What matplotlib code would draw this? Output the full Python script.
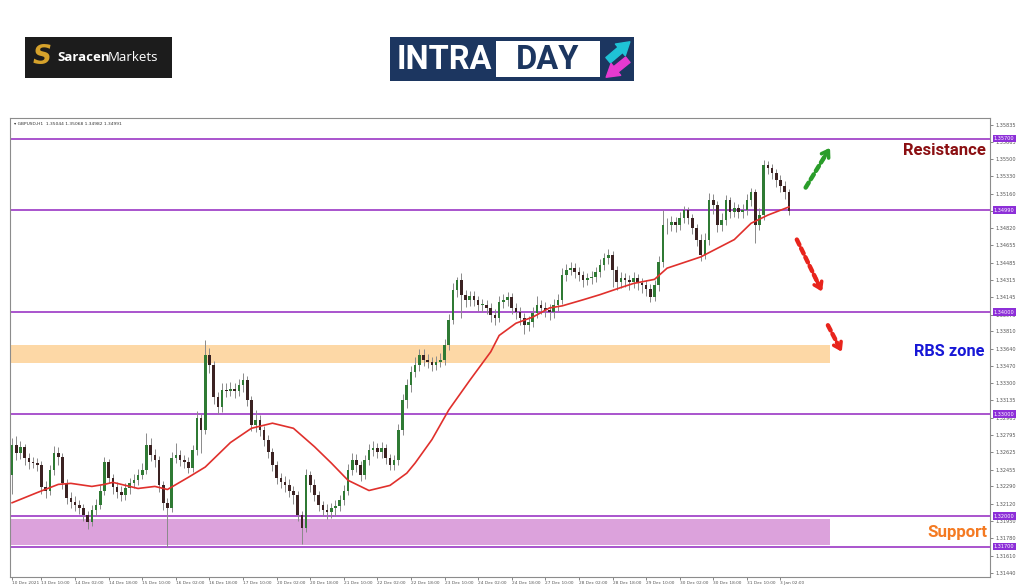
import matplotlib
matplotlib.use("Agg")
import matplotlib.pyplot as plt
from matplotlib.patches import Rectangle, FancyArrowPatch

# ---------------- data (2-hour bars) ----------------
first_open = 1.3240
closes = [
    1.3270, 1.3262, 1.3268, 1.3257, 1.3253, 1.3252, 1.3250, 1.3228, 1.3225, 1.3245,
    1.3262, 1.3258, 1.3232, 1.3218, 1.3214, 1.3211, 1.3208, 1.3201, 1.3194, 1.3206,
    1.3211, 1.3225, 1.3253, 1.3237, 1.3228, 1.3224, 1.3221, 1.3227, 1.3232, 1.3235,
    1.3240, 1.3245, 1.3270, 1.3260, 1.3255, 1.3230, 1.3213, 1.3208, 1.3257, 1.3260,
    1.3255, 1.3253, 1.3247, 1.3265, 1.3296, 1.3284, 1.3358, 1.3348, 1.3317, 1.3307,
    1.3324, 1.3323, 1.3325, 1.3323, 1.3328, 1.3333, 1.3314, 1.3289, 1.3294, 1.3284,
    1.3275, 1.3263, 1.3250, 1.3237, 1.3233, 1.3230, 1.3225, 1.3221, 1.3201, 1.3188,
    1.3240, 1.3230, 1.3221, 1.3211, 1.3206, 1.3204, 1.3208, 1.3210, 1.3216, 1.3225,
    1.3245, 1.3255, 1.3250, 1.3240, 1.3255, 1.3265, 1.3267, 1.3263, 1.3267, 1.3257,
    1.3250, 1.3255, 1.3284, 1.3314, 1.3328, 1.3341, 1.3348, 1.3358, 1.3353, 1.3351,
    1.3348, 1.3351, 1.3353, 1.3368, 1.3392, 1.3422, 1.3431, 1.3417, 1.3412, 1.3416,
    1.3412, 1.3407, 1.3407, 1.3404, 1.3397, 1.3394, 1.3410, 1.3412, 1.3415, 1.3404,
    1.3400, 1.3394, 1.3387, 1.3390, 1.3399, 1.3407, 1.3404, 1.3402, 1.3400, 1.3407,
    1.3412, 1.3436, 1.3441, 1.3443, 1.3439, 1.3436, 1.3431, 1.3433, 1.3434, 1.3439,
    1.3446, 1.3453, 1.3456, 1.3441, 1.3429, 1.3433, 1.3431, 1.3429, 1.3433, 1.3428,
    1.3426, 1.3423, 1.3415, 1.3426, 1.3449, 1.3485, 1.3485, 1.3488, 1.3485, 1.3492,
    1.3500, 1.3492, 1.3482, 1.3471, 1.3456, 1.3471, 1.3510, 1.3505, 1.3485, 1.3490,
    1.3510, 1.3498, 1.3502, 1.3498, 1.3500, 1.3510, 1.3518, 1.3485, 1.3495, 1.3544,
    1.3541, 1.3536, 1.3529, 1.3524, 1.3518, 1.3499,
]
highs = [
    1.3276, 1.3278, 1.3274, 1.3271, 1.3262, 1.3258, 1.3257, 1.3254, 1.3234, 1.3250,
    1.3269, 1.3268, 1.3262, 1.3236, 1.3224, 1.3220, 1.3216, 1.3212, 1.3205, 1.3211,
    1.3217, 1.3230, 1.3258, 1.3256, 1.3241, 1.3233, 1.3229, 1.3232, 1.3237, 1.3241,
    1.3246, 1.3252, 1.3281, 1.3276, 1.3266, 1.3259, 1.3234, 1.3218, 1.3263, 1.3272,
    1.3265, 1.3260, 1.3258, 1.3270, 1.3303, 1.3300, 1.3373, 1.3365, 1.3352, 1.3322,
    1.3330, 1.3330, 1.3331, 1.3330, 1.3334, 1.3340, 1.3337, 1.3318, 1.3304, 1.3299,
    1.3288, 1.3279, 1.3267, 1.3254, 1.3242, 1.3239, 1.3236, 1.3229, 1.3225, 1.3205,
    1.3246, 1.3244, 1.3236, 1.3225, 1.3215, 1.3212, 1.3213, 1.3216, 1.3221, 1.3230,
    1.3251, 1.3262, 1.3261, 1.3254, 1.3260, 1.3271, 1.3274, 1.3272, 1.3273, 1.3271,
    1.3261, 1.3260, 1.3290, 1.3320, 1.3334, 1.3347, 1.3356, 1.3364, 1.3364, 1.3359,
    1.3356, 1.3357, 1.3360, 1.3374, 1.3398, 1.3428, 1.3434, 1.3438, 1.3422, 1.3421,
    1.3421, 1.3416, 1.3413, 1.3412, 1.3409, 1.3403, 1.3416, 1.3418, 1.3420, 1.3419,
    1.3409, 1.3405, 1.3399, 1.3396, 1.3405, 1.3416, 1.3412, 1.3410, 1.3408, 1.3413,
    1.3418, 1.3443, 1.3447, 1.3449, 1.3448, 1.3444, 1.3440, 1.3438, 1.3440, 1.3444,
    1.3452, 1.3458, 1.3462, 1.3460, 1.3445, 1.3439, 1.3438, 1.3436, 1.3439, 1.3437,
    1.3433, 1.3431, 1.3427, 1.3431, 1.3455, 1.3500, 1.3492, 1.3494, 1.3493, 1.3498,
    1.3504, 1.3503, 1.3496, 1.3486, 1.3476, 1.3477, 1.3517, 1.3516, 1.3509, 1.3497,
    1.3515, 1.3513, 1.3508, 1.3506, 1.3506, 1.3516, 1.3522, 1.3521, 1.3502, 1.3549,
    1.3548, 1.3545, 1.3540, 1.3534, 1.3528, 1.3521,
]
lows = [
    1.3222, 1.3255, 1.3256, 1.3250, 1.3246, 1.3247, 1.3244, 1.3222, 1.3218, 1.3221,
    1.3240, 1.3250, 1.3226, 1.3212, 1.3208, 1.3205, 1.3202, 1.3195, 1.3187, 1.3190,
    1.3200, 1.3207, 1.3221, 1.3232, 1.3222, 1.3218, 1.3215, 1.3216, 1.3222, 1.3227,
    1.3230, 1.3236, 1.3241, 1.3254, 1.3248, 1.3224, 1.3206, 1.3170, 1.3204, 1.3252,
    1.3249, 1.3247, 1.3242, 1.3243, 1.3260, 1.3262, 1.3280, 1.3340, 1.3310, 1.3300,
    1.3302, 1.3317, 1.3318, 1.3316, 1.3318, 1.3322, 1.3308, 1.3283, 1.3282, 1.3278,
    1.3269, 1.3257, 1.3244, 1.3231, 1.3227, 1.3224, 1.3219, 1.3212, 1.3195, 1.3173,
    1.3184, 1.3224, 1.3215, 1.3205, 1.3200, 1.3197, 1.3198, 1.3200, 1.3205, 1.3211,
    1.3221, 1.3240, 1.3243, 1.3234, 1.3236, 1.3250, 1.3259, 1.3257, 1.3257, 1.3251,
    1.3245, 1.3245, 1.3250, 1.3279, 1.3306, 1.3322, 1.3336, 1.3342, 1.3347, 1.3345,
    1.3342, 1.3343, 1.3346, 1.3348, 1.3363, 1.3388, 1.3415, 1.3394, 1.3405, 1.3406,
    1.3406, 1.3401, 1.3400, 1.3398, 1.3390, 1.3387, 1.3390, 1.3404, 1.3406, 1.3398,
    1.3393, 1.3387, 1.3378, 1.3381, 1.3385, 1.3394, 1.3398, 1.3395, 1.3392, 1.3394,
    1.3401, 1.3408, 1.3430, 1.3436, 1.3433, 1.3430, 1.3425, 1.3426, 1.3427, 1.3429,
    1.3434, 1.3441, 1.3447, 1.3425, 1.3422, 1.3424, 1.3425, 1.3422, 1.3424, 1.3422,
    1.3419, 1.3416, 1.3410, 1.3411, 1.3421, 1.3444, 1.3476, 1.3479, 1.3478, 1.3480,
    1.3487, 1.3486, 1.3476, 1.3465, 1.3450, 1.3452, 1.3466, 1.3496, 1.3478, 1.3479,
    1.3485, 1.3492, 1.3493, 1.3492, 1.3492, 1.3495, 1.3504, 1.3468, 1.3480, 1.3490,
    1.3535, 1.3530, 1.3523, 1.3518, 1.3511, 1.3495,
]

# moving average (red line) read at sample bars
ma_idx = [0, 6, 11, 14, 19, 22, 24, 26, 30, 34, 37, 42, 46, 52, 57, 62, 67, 72, 76,
          80, 85, 90, 94, 96, 100, 104, 109, 114, 116, 120, 124, 128, 131, 136, 140,
          145, 148, 153, 156, 164, 172, 176, 180, 185]
ma_val = [1.3213, 1.3223, 1.3231, 1.3232, 1.3229, 1.3231, 1.3233, 1.3231, 1.3227,
          1.3229, 1.3226, 1.3238, 1.3248, 1.3272, 1.3286, 1.3291, 1.3286, 1.3268,
          1.3252, 1.3235, 1.3225, 1.3230, 1.3242, 1.3252, 1.3275, 1.3304, 1.3333,
          1.3361, 1.3377, 1.3389, 1.3395, 1.3404, 1.3406, 1.3412, 1.3417, 1.3424,
          1.3428, 1.3432, 1.3443, 1.3454, 1.3471, 1.3487, 1.3495, 1.3503]

level_prices = [1.35700, 1.35000, 1.34000, 1.33000, 1.32000, 1.31700]
level_labels = ["1.35700", "1.34990", "1.34000", "1.33000", "1.32000", "1.31700"]

ytick_vals = [1.35835, 1.35665, 1.35500, 1.35330, 1.35160, 1.34990, 1.34820,
              1.34655, 1.34485, 1.34315, 1.34145, 1.33975, 1.33810, 1.33640,
              1.33470, 1.33300, 1.33135, 1.32965, 1.32795, 1.32625, 1.32455,
              1.32290, 1.32120, 1.31950, 1.31780, 1.31610, 1.31440]
ytick_labels = ["%.5f" % v for v in ytick_vals]

xtick_idx = [0, 7, 15, 23, 31, 39, 47, 55, 63, 71, 79, 87, 95, 103, 111, 119,
             127, 135, 143, 151, 159, 167, 175, 183]
xtick_labels = ["10 Dec 2021", "13 Dec 10:00", "14 Dec 02:00", "14 Dec 18:00",
                "15 Dec 10:00", "16 Dec 02:00", "16 Dec 18:00", "17 Dec 10:00",
                "20 Dec 02:00", "20 Dec 18:00", "21 Dec 10:00", "22 Dec 02:00",
                "22 Dec 18:00", "23 Dec 10:00", "24 Dec 02:00", "24 Dec 18:00",
                "27 Dec 10:00", "28 Dec 02:00", "28 Dec 18:00", "29 Dec 10:00",
                "30 Dec 02:00", "30 Dec 18:00", "31 Dec 10:00", "3 Jan 02:00"]

rbs_zone = (1.33500, 1.33676)
support_zone = (1.31716, 1.31971)
zone_end = 194.8

# ---------------- figure ----------------
W, H = 1024, 587
fig = plt.figure(figsize=(W / 100, H / 100), dpi=100)
fig.patch.set_facecolor("white")

def fx(px):
    return px / W

def fy(py):
    return 1 - py / H

ax = fig.add_axes([fx(10), fy(577), fx(990) - fx(10), fy(118) - fy(577)])
ax.set_xlim(-0.5, 232.9)
ax.set_ylim(1.31402, 1.35902)

# zones
ax.add_patch(Rectangle((-0.5, rbs_zone[0]), zone_end + 0.5, rbs_zone[1] - rbs_zone[0],
                       facecolor="#fdd8a6", edgecolor="none", zorder=1))
ax.add_patch(Rectangle((-0.5, support_zone[0]), zone_end + 0.5,
                       support_zone[1] - support_zone[0],
                       facecolor="#dca2dc", edgecolor="none", zorder=1))

# levels
for p in level_prices:
    ax.axhline(p, color="#a347c9", lw=1.3, zorder=2)

# candles
opens = [first_open] + closes[:-1]
xs = list(range(len(closes)))
ax.vlines(xs, lows, highs, color="#8a8a8a", lw=0.7, zorder=3)
for i, (o, c) in enumerate(zip(opens, closes)):
    bull = c >= o
    h = max(abs(c - o), 0.00004)
    ax.bar(i, h, bottom=min(o, c), width=0.62,
           color="#2f7a34" if bull else "#3b2222", edgecolor="none", zorder=4)

# moving average
ax.plot(ma_idx, ma_val, color="#e0302c", lw=1.2, zorder=5)

# axes style
for s in ax.spines.values():
    s.set_color("#8c8c8c")
    s.set_linewidth(0.8)
ax.yaxis.tick_right()
ax.set_yticks(ytick_vals)
ax.set_yticklabels(ytick_labels)
ax.set_xticks(xtick_idx)
ax.set_xticklabels(xtick_labels)
ax.tick_params(axis="y", labelsize=3.6, length=2, width=0.5, colors="#555555", pad=2)
ax.tick_params(axis="x", labelsize=3.05, length=2, width=0.5, colors="#555555", pad=1)
for lab in ax.get_xticklabels():
    lab.set_ha("left")

# level price boxes
ytr = ax.get_yaxis_transform()
for p, lab in zip(level_prices, level_labels):
    ax.text(1.004, p, lab, transform=ytr, fontsize=3.6, color="white",
            ha="left", va="center", zorder=10, clip_on=False,
            bbox=dict(boxstyle="square,pad=0.25", fc="#8d2fd8", ec="none"))

# header
ax.text(0.004, 0.992, "\u25BE GBPUSD,H1  1.35044 1.35068 1.34982 1.34991",
        transform=ax.transAxes, fontsize=3.2, color="#333333", ha="left", va="top")

# annotations
ax.text(231.9, 1.35588, "Resistance", fontsize=12, fontweight="bold",
        color="#8b0f12", ha="right", va="center", family="Roboto")
ax.text(231.6, 1.33608, "RBS zone", fontsize=11.8, fontweight="bold",
        color="#1717d6", ha="right", va="center", family="Roboto")
ax.text(232.2, 1.31843, "Support", fontsize=12.2, fontweight="bold",
        color="#f47a22", ha="right", va="center", family="Roboto")

def dashed_arrow(x0, y0, x1, y1, color):
    ax.annotate("", xy=(x1, y1), xytext=(x0, y0),
                arrowprops=dict(arrowstyle="-", color=color, lw=3.2,
                                linestyle=(0, (1.3, 0.9)), shrinkA=0, shrinkB=3),
                zorder=6, annotation_clip=False)
    ax.annotate("", xy=(x1, y1), xytext=(x0 + (x1 - x0) * 0.7, y0 + (y1 - y0) * 0.7),
                arrowprops=dict(arrowstyle="->,head_length=0.45,head_width=0.3",
                                color=color, lw=2.6, shrinkA=0, shrinkB=0),
                zorder=6, annotation_clip=False)

dashed_arrow(189.0, 1.3522, 194.8, 1.3561, "#2a9d2a")
dashed_arrow(186.9, 1.3471, 192.9, 1.3420, "#e8241c")
dashed_arrow(194.3, 1.3387, 197.6, 1.3361, "#e8241c")

# ---------------- logos ----------------
fig.patches.append(Rectangle((fx(25), fy(78)), fx(172) - fx(25), fy(37) - fy(78),
                             transform=fig.transFigure, facecolor="#1c1c1c",
                             edgecolor="none"))
fig.text(fx(42), fy(57.5), "S", fontsize=19, fontweight="bold", color="#d6a22b",
         ha="center", va="center", style="italic", family="DejaVu Sans")
fig.text(fx(57), fy(57.5), "Saracen", fontsize=9.5, fontweight="bold", color="white",
         ha="left", va="center", family="Open Sans")
fig.text(fx(108), fy(57.5), "Markets", fontsize=9.5, color="white",
         ha="left", va="center", family="Open Sans")

fig.patches.append(Rectangle((fx(390), fy(81)), fx(634) - fx(390), fy(37) - fy(81),
                             transform=fig.transFigure, facecolor="#1c3660",
                             edgecolor="none"))
fig.patches.append(Rectangle((fx(496), fy(77)), fx(600) - fx(496), fy(41) - fy(77),
                             transform=fig.transFigure, facecolor="white",
                             edgecolor="none"))
fig.text(fx(444), fy(60), "INTRA", fontsize=23.5, fontweight="bold", color="white",
         ha="center", va="center", family="Roboto")
fig.text(fx(548), fy(60), "DAY", fontsize=23.5, fontweight="bold", color="#1c3660",
         ha="center", va="center", family="Roboto")
fig.patches.append(FancyArrowPatch((fx(606), fy(62)), (fx(632), fy(40)),
                                   transform=fig.transFigure,
                                   arrowstyle="simple,head_length=9,head_width=11,tail_width=5",
                                   color="#1fc3d6"))
fig.patches.append(FancyArrowPatch((fx(630), fy(58)), (fx(604), fy(79)),
                                   transform=fig.transFigure,
                                   arrowstyle="simple,head_length=9,head_width=11,tail_width=5",
                                   color="#e63ad0"))

fig.savefig("out.png", dpi=100, facecolor="white")
